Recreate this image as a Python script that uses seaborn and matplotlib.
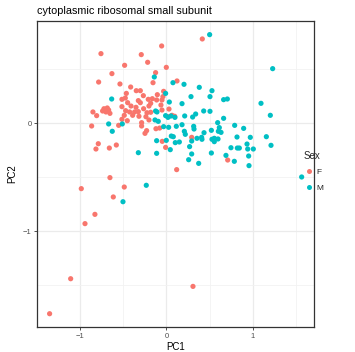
import matplotlib
matplotlib.use("Agg")
import matplotlib.pyplot as plt
import seaborn as sns
import pandas as pd
from matplotlib.ticker import FixedLocator
from matplotlib.lines import Line2D

title = "cytoplasmic ribosomal small subunit"

f_pc1 = [-0.056, -0.759, -0.292, -0.218, -0.485, -0.632, -0.126, -0.786, -0.539, -0.156,
         -0.415, -0.350, -0.303, -0.465, -0.268, -0.106, -0.477, -0.516, -0.326, -0.303,
         -0.450, -0.211, -0.164, -0.114, -0.183, -0.052, -0.411, -0.516, -0.353, -0.265,
         -0.203, -0.064, -0.724, -0.686, -0.740, -0.670, -0.655, -0.701, -0.852, -0.809,
         -0.473, -0.427, -0.369, -0.326, -0.226, -0.392, -0.489, -0.319, -0.238, -0.183,
         -0.203, -0.516, -0.454, -0.052, -0.288, -0.288, -0.554, -0.867, -0.079, -0.122,
         -0.230, -0.249, -0.790, -0.817, -0.662, -0.581, -0.655,
         -0.002, 0.415, 0.122, -0.033, -0.041, 0.029, 0.064, 0.095, 0.021, -0.010,
         0.292, 0.709, 0.118, -0.049,
         -0.987, -0.489, -0.616, -0.829, -0.944, -1.110, -1.354, 0.307]
f_pc2 = [0.716, 0.645, 0.636, 0.565, 0.537, 0.460, 0.469, 0.382, 0.364, 0.376,
         0.336, 0.302, 0.302, 0.277, 0.256, 0.265, 0.234, 0.222, 0.210, 0.191,
         0.191, 0.222, 0.228, 0.216, 0.185, 0.216, 0.160, 0.154, 0.148, 0.135,
         0.160, 0.169, 0.135, 0.142, 0.114, 0.123, 0.092, 0.105, 0.105, 0.071,
         0.117, 0.105, 0.105, 0.108, 0.098, 0.074, 0.074, 0.065, 0.061, 0.102,
         0.031, 0.037, 0.024, 0.123, 0.006, -0.025, -0.019, -0.025, -0.044, -0.050,
         -0.068, -0.093, -0.189, -0.238, -0.229, -0.201, -0.503,
         0.518, 0.781, 0.392, 0.296, 0.247, 0.132, 0.074, 0.065, 0.061, -0.223,
         -0.130, -0.340, -0.429, -0.167,
         -0.605, -0.590, -0.682, -0.843, -0.929, -1.439, -1.763, -1.510]

m_pc1 = [-0.141, -0.635, -0.110, -0.126, -0.133, -0.095, -0.670, -0.512, -0.628, -0.114,
         -0.326, -0.114,
         0.500, 0.075, 0.203, 0.380, 0.527, 0.284, 0.504, 0.662, 0.705, -0.010,
         0.033, 0.180, 0.431, 0.504, -0.010, 0.017, 0.052, 0.098, 0.211, 0.303,
         0.338, 0.662, 0.593, 0.612, 0.790, 0.894, -0.033, 0.025, 0.114, 0.180,
         0.315, 0.319, 0.520, 0.601, 0.632, 0.207, 0.218, 0.435, 0.056, 0.079,
         -0.002, 0.292, 0.353, 0.407, 0.411, 0.527, 0.554, 0.597, 0.554, 0.817,
         0.971, 1.157, 0.102, 0.149, 0.268, 0.044, 0.747, 0.821, 0.844, 0.941,
         1.006, 0.933, 1.211, 0.520, 0.689, 0.952, 0.292, 0.257, 0.373, 0.786,
         0.956, 1.095, 1.203, 1.230, 1.566,
         -0.234, -0.504]
m_pc2 = [0.429, 0.225, 0.105, 0.114, 0.031, 0.018, -0.006, -0.006, -0.074, -0.161,
         -0.272, -0.278,
         0.821, 0.376, 0.361, 0.333, 0.302, 0.247, 0.247, 0.219, 0.225, 0.277,
         0.197, 0.182, 0.114, 0.111, 0.071, 0.055, 0.068, 0.055, 0.068, 0.058,
         0.086, 0.046, 0.006, -0.040, -0.019, -0.047, -0.031, -0.037, -0.028, -0.013,
         -0.028, -0.053, -0.065, -0.074, -0.084, -0.074, -0.102, -0.087, -0.118, -0.124,
         -0.158, -0.164, -0.139, -0.130, -0.148, -0.148, -0.139, -0.145, -0.170, -0.127,
         -0.130, -0.124, -0.179, -0.173, -0.216, -0.244, -0.226, -0.229, -0.229, -0.238,
         -0.238, -0.192, -0.204, -0.275, -0.297, -0.303, -0.284, -0.337, -0.371, -0.352,
         -0.392, 0.185, 0.074, 0.506, -0.497,
         -0.574, -0.726]

sex_levels = ["F", "M"]
colors = {"F": "#F8766D", "M": "#00BFC4"}

df = pd.DataFrame({
    "PC1": f_pc1 + m_pc1,
    "PC2": f_pc2 + m_pc2,
    "Sex": ["F"] * len(f_pc1) + ["M"] * len(m_pc1),
})

sns.set_theme(style="white")
plt.rcParams["font.family"] = ["Liberation Sans", "DejaVu Sans"]

fig = plt.figure(figsize=(3.55, 3.52), dpi=100)
ax = fig.add_axes([37/355, 1-327/352, (314-37)/355, (327-20.7)/352])

sns.scatterplot(data=df, x="PC1", y="PC2", hue="Sex", palette=colors,
                hue_order=sex_levels, s=14, linewidth=0, ax=ax, legend=False)

ax.set_xlim(-1.50, 1.709)
ax.set_ylim(-1.886, 0.950)
ax.xaxis.set_major_locator(FixedLocator([-1, 0, 1]))
ax.xaxis.set_minor_locator(FixedLocator([-1.5, -0.5, 0.5, 1.5]))
ax.yaxis.set_major_locator(FixedLocator([-1, 0]))
ax.yaxis.set_minor_locator(FixedLocator([-1.5, -0.5, 0.5]))
ax.grid(True, which="major", color="#EBEBEB", linewidth=0.9)
ax.grid(True, which="minor", color="#F2F2F2", linewidth=0.6)
ax.set_axisbelow(True)
for sp in ax.spines.values():
    sp.set_color("#333333")
    sp.set_linewidth(0.9)
    sp.set_visible(True)
ax.tick_params(axis="both", which="major", length=2.5, width=0.6, color="#333333",
               labelsize=5.5, labelcolor="#4D4D4D", pad=1.5, direction="out",
               bottom=True, left=True)
ax.tick_params(axis="both", which="minor", length=0)
ax.set_xlabel("PC1", fontsize=7, labelpad=1.5, color="black")
ax.set_ylabel("PC2", fontsize=7, labelpad=4, color="black")
ax.set_title(title, fontsize=7.8, loc="left", pad=5, color="black")

handles = [Line2D([0], [0], marker="o", linestyle="", markersize=3.6,
                  markerfacecolor=colors[k], markeredgewidth=0) for k in sex_levels]
leg = fig.legend(handles, sex_levels, title="Sex", loc="upper left",
                 bbox_to_anchor=(298/355, 1-145/352), frameon=False,
                 fontsize=6, title_fontsize=7, handletextpad=0.3,
                 labelspacing=0.9, handlelength=1.2, borderpad=0.2)
leg._legend_box.align = "left"

fig.savefig("out.png", dpi=100)
